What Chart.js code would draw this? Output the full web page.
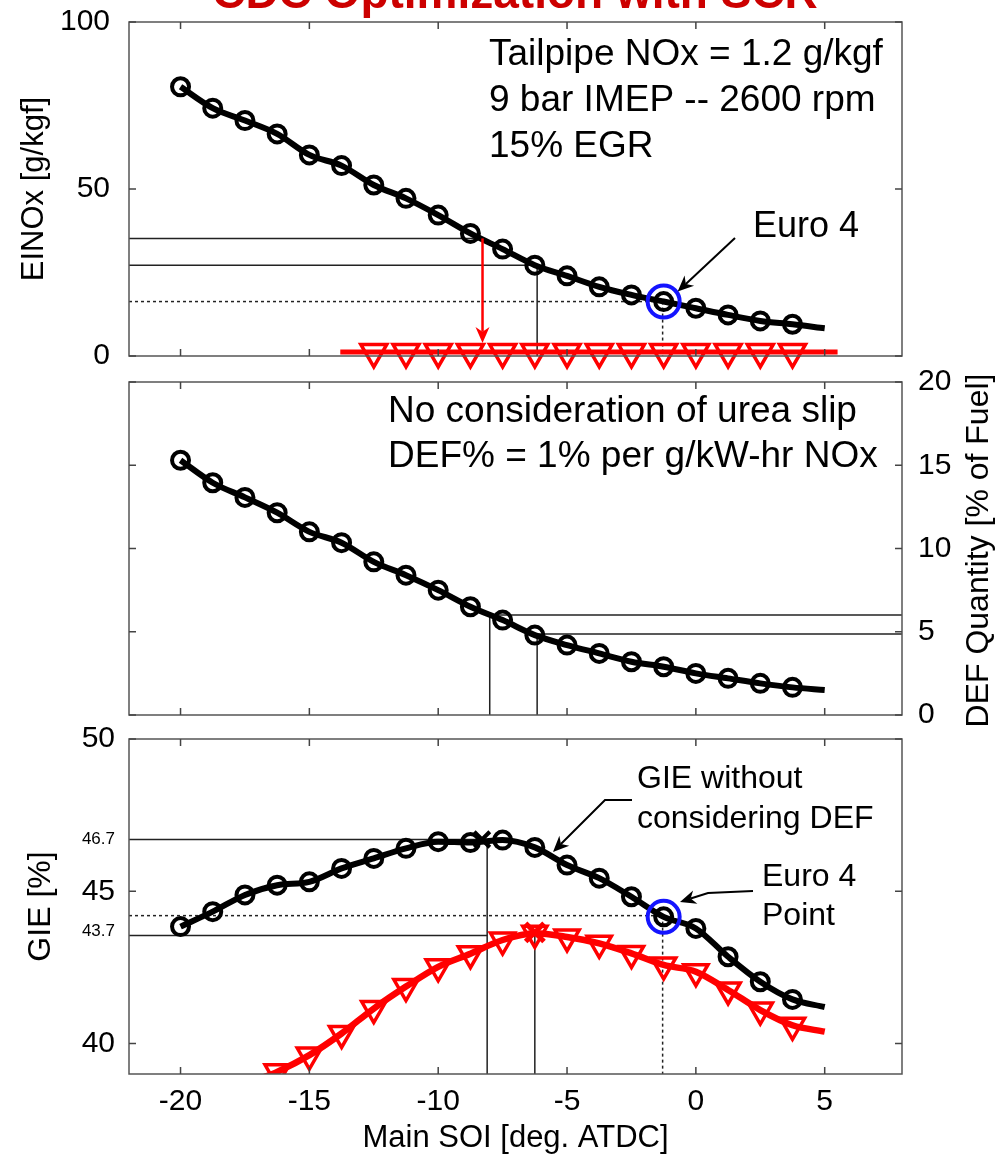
<!DOCTYPE html>
<html><head><meta charset="utf-8">
<script src="https://cdn.jsdelivr.net/npm/chart.js@4.4.1/dist/chart.umd.min.js"></script>
<style>
html,body{margin:0;padding:0;background:#fff;overflow:hidden}
#wrap{position:relative;width:1000px;height:1157px}
canvas{position:absolute;left:0;top:0}
</style></head><body>
<div id="wrap">
<canvas id="c1" width="1000" height="1157" style="width:1000px;height:1157px"></canvas>
<canvas id="c2" width="1000" height="1157" style="width:1000px;height:1157px"></canvas>
<canvas id="c3" width="1000" height="1157" style="width:1000px;height:1157px"></canvas>
</div>
<script>
// ---------- data ----------
const soi = [-20,-18.75,-17.5,-16.25,-15,-13.75,-12.5,-11.25,-10,-8.75,-7.5,-6.25,-5,-3.75,-2.5,-1.25,0,1.25,2.5,3.75];
const einox = [80.6,74.2,70.5,66.5,60.2,57.0,51.2,47.2,42.2,36.7,32.0,27.2,24.0,20.7,18.3,16.3,14.3,12.3,10.5,9.5];
const einoxFitEnd = [5, 8.3];
const tailSoi = [-12.5,-11.25,-10,-8.75,-7.5,-6.25,-5,-3.75,-2.5,-1.25,0,1.25,2.5,3.75];
const tailNox = [1.2,1.2,1.2,1.2,1.2,1.2,1.2,1.2,1.2,1.2,1.2,1.2,1.2,1.2];
const tailLineX = [-13.8, 5.5];
const tailLineY = [1.2, 1.2];
const defQty = [15.3,13.95,13.07,12.15,11.0,10.35,9.2,8.4,7.5,6.5,5.7,4.8,4.2,3.7,3.2,2.9,2.5,2.2,1.9,1.66];
const defFitEnd = [5, 1.5];
const gie = [43.84,44.33,44.88,45.2,45.31,45.75,46.08,46.41,46.63,46.6,46.68,46.44,45.86,45.43,44.82,44.16,43.78,42.85,42.03,41.45];
const gieFitEnd = [5, 41.2];
const gieDefSoi = [-16.25,-15,-13.75,-12.5,-11.25,-10,-8.75,-7.5,-6.25,-5,-3.75,-2.5,-1.25,0,1.25,2.5,3.75];
const gieDef = [39.07,39.62,40.33,41.15,41.87,42.52,42.95,43.4,43.62,43.5,43.29,42.96,42.58,42.36,41.76,41.1,40.6];
const gieDefFitStart = [-16.9, 38.85];
const gieDefFitEnd = [5, 40.39];
const euro4Soi = -1.25;
const euro4Nox = 16.3;
const euro4Gie = 44.16;
const gieMax = [-8.3, 46.7];
const gieDefMax = [-6.25, 43.65];
// reference guide lines [x0,y0,x1,y1,dashed]
const guides1 = [[-22,35.2,-8.28,35.2,0],[-22,27.2,-6.16,27.2,0],[-6.16,27.2,-6.16,0,0],[-22,16.3,-1.29,16.3,1],[-1.29,16.3,-1.29,0,1]];
const redArrow1 = [-8.28, 35.2, 3.9];
const guides2 = [[-8.0,6.0,8,6.0,0],[-8.0,6.0,-8.0,0,0],[-6.16,4.87,8,4.87,0],[-6.16,4.87,-6.16,0,0]];
const guides3 = [[-22,46.7,-8.1,46.7,0],[-8.1,46.7,-8.1,39,0],[-22,43.55,-8.1,43.55,0],[-6.25,43.65,-6.25,39,0],[-22,44.2,-1.29,44.2,1],[-1.29,44.2,-1.29,39,1]];
// ticks
const xTicks = [-20,-15,-10,-5,0,5];
const yTicks1 = [0,50,100];
const yTicks2 = [0,5,10,15,20];
const yTicks3 = [40,43.7,45,46.7,50];
const yMajor3 = [40,45,50];
const yMinor3 = [43.7,46.7];

// ---------- helpers ----------
const FONT = "'Liberation Sans', Arial, Helvetica, sans-serif";
Chart.defaults.font.family = FONT;
Chart.defaults.color = '#000';
const RED = '#ff0000';
const BLUE = '#1414ff';
const pts = (xs, ys) => xs.map((x, i) => ({x, y: ys[i]}));

function curve(xs, ys, extraStart, extraEnd, color, markerStyle, r, bw, lw) {
  const data = [];
  if (extraStart) data.push({x: extraStart[0], y: extraStart[1]});
  const off = data.length;
  data.push(...pts(xs, ys));
  if (extraEnd) data.push({x: extraEnd[0], y: extraEnd[1]});
  return {
    data, showLine: true, borderColor: color, borderWidth: lw,
    cubicInterpolationMode: 'monotone',
    pointStyle: markerStyle, rotation: markerStyle === 'triangle' ? 180 : 0,
    pointRadius: c => (c.dataIndex >= off && c.dataIndex < off + xs.length) ? r : 0,
    pointHoverRadius: 0,
    pointBorderWidth: bw, pointBorderColor: color, pointBackgroundColor: 'rgba(0,0,0,0)',
    order: 1
  };
}
function guideSets(list) {
  return list.map(g => ({
    data: [{x: g[0], y: g[1]}, {x: g[2], y: g[3]}], showLine: true,
    borderColor: '#222', borderWidth: 1.5, borderDash: g[4] ? [3, 3] : [],
    pointRadius: 0, order: 10
  }));
}
function marker(x, y, style, r, bw, color) {
  return {data: [{x, y}], showLine: false, pointStyle: style, pointRadius: r, pointHoverRadius: 0,
    pointBorderWidth: bw, pointBorderColor: color, pointBackgroundColor: 'rgba(0,0,0,0)', order: 0, clip: false};
}
function arrow(ctx, p, color, lw, hl, hw) {
  ctx.save();
  ctx.strokeStyle = color; ctx.fillStyle = color; ctx.lineWidth = lw;
  const n = p.length, [tx, ty] = p[n - 1], [px, py] = p[n - 2];
  const a = Math.atan2(ty - py, tx - px), c = Math.cos(a), s = Math.sin(a);
  ctx.beginPath(); ctx.moveTo(p[0][0], p[0][1]);
  for (let i = 1; i < n - 1; i++) ctx.lineTo(p[i][0], p[i][1]);
  ctx.lineTo(tx - c * hl * 0.7, ty - s * hl * 0.7); ctx.stroke();
  ctx.beginPath(); ctx.moveTo(tx, ty);
  ctx.lineTo(tx - c * hl - s * hw / 2, ty - s * hl + c * hw / 2);
  ctx.lineTo(tx - c * hl * 0.7, ty - s * hl * 0.7);
  ctx.lineTo(tx - c * hl + s * hw / 2, ty - s * hl - c * hw / 2);
  ctx.closePath(); ctx.fill();
  ctx.restore();
}
function text(ctx, str, x, y, size, opts = {}) {
  ctx.save();
  ctx.font = (opts.bold ? 'bold ' : '') + size + 'px ' + FONT;
  ctx.fillStyle = opts.color || '#000';
  ctx.textAlign = opts.align || 'left';
  ctx.textBaseline = 'alphabetic';
  if (opts.rot) { ctx.translate(x, y); ctx.rotate(opts.rot); ctx.fillText(str, 0, 0); }
  else ctx.fillText(str, x, y);
  ctx.restore();
}
const framePlugin = {
  id: 'frame',
  afterDatasetsDraw(chart, args, o) {
    const {ctx, chartArea: {left, right, top, bottom}} = chart;
    const xs = chart.scales.x, ys = chart.scales.y;
    ctx.save();
    ctx.strokeStyle = '#555'; ctx.lineWidth = 1.5;
    ctx.strokeRect(left, top, right - left, bottom - top);
    ctx.strokeStyle = '#444';
    ctx.beginPath();
    xTicks.forEach(v => { const p = xs.getPixelForValue(v);
      ctx.moveTo(p, bottom); ctx.lineTo(p, bottom - 7); ctx.moveTo(p, top); ctx.lineTo(p, top + 7); });
    (o.yMajor || []).forEach(v => { const p = ys.getPixelForValue(v);
      ctx.moveTo(left, p); ctx.lineTo(left + 7, p); ctx.moveTo(right, p); ctx.lineTo(right - 7, p); });
    ctx.stroke();
    ctx.restore();
  }
};
function noPad(s) { s.paddingTop = 0; s.paddingBottom = 0; s.paddingLeft = 0; s.paddingRight = 0; }
function xScale(display) {
  return {
    type: 'linear', min: -22, max: 8, display,
    afterBuildTicks: s => { s.ticks = xTicks.map(v => ({value: v})); },
    afterFit: s => { s.height = display ? 83 : 0; noPad(s); },
    grid: {display: false, drawTicks: false}, border: {display: false},
    ticks: {font: {size: 30}, padding: 10, maxRotation: 0, autoSkip: false},
    title: display ? {display: true, text: 'Main SOI [deg. ATDC]', font: {size: 31}, padding: {top: 0, bottom: 0}} : {display: false}
  };
}
function baseOpts(pad, scales, yMajor) {
  return {
    responsive: false, maintainAspectRatio: false, animation: false,
    layout: {padding: pad, autoPadding: false},
    events: [],
    plugins: {legend: {display: false}, tooltip: {enabled: false}, frame: {yMajor}},
    scales
  };
}

// ---------- panel 1 ----------
new Chart(document.getElementById('c1'), {
  type: 'scatter',
  data: {datasets: [
    marker(euro4Soi, euro4Nox, 'circle', 16, 4, BLUE),
    curve(soi, einox, null, einoxFitEnd, '#000', 'circle', 8.5, 4, 6),
    Object.assign(curve(tailSoi, tailNox, null, null, RED, 'triangle', 15, 3.5, 0), {showLine: false, clip: false, order: 2}),
    {data: pts(tailLineX, tailLineY), showLine: true, borderColor: RED, borderWidth: 5, pointRadius: 0, clip: false, order: 3},
    ...guideSets(guides1)
  ]},
  options: baseOpts({left: 0, top: 22, right: 98, bottom: 801}, {
    x: xScale(false),
    y: {type: 'linear', min: 0, max: 100, position: 'left',
      afterBuildTicks: s => { s.ticks = yTicks1.map(v => ({value: v})); },
      afterFit: s => { s.width = 129; noPad(s); },
      grid: {display: false, drawTicks: false}, border: {display: false},
      ticks: {font: {size: 30}, padding: 19},
      title: {display: true, text: 'EINOx [g/kgf]', font: {size: 31}, padding: {top: 16, bottom: 0}}}
  }, yTicks1),
  plugins: [framePlugin, {
    id: 'ann1',
    afterDraw(chart) {
      const {ctx, scales: {x, y}} = chart;
      text(ctx, 'CDC Optimization with SCR', 515, 8, 46, {bold: true, color: '#cc0000', align: 'center'});
      text(ctx, 'Tailpipe NOx = 1.2 g/kgf', 489, 65, 37);
      text(ctx, '9 bar IMEP -- 2600 rpm', 489, 111, 37);
      text(ctx, '15% EGR', 489, 157, 37);
      text(ctx, 'Euro 4', 753, 237, 36);
      const ex = x.getPixelForValue(euro4Soi), ey = y.getPixelForValue(euro4Nox);
      arrow(ctx, [[735, 238], [ex + 14, ey - 10]], '#000', 2, 16, 14);
      const ax = x.getPixelForValue(redArrow1[0]);
      arrow(ctx, [[ax, y.getPixelForValue(redArrow1[1])], [ax, y.getPixelForValue(redArrow1[2])]], RED, 2.5, 16, 14);
    }
  }]
});

// ---------- panel 2 ----------
new Chart(document.getElementById('c2'), {
  type: 'scatter',
  data: {datasets: [
    curve(soi, defQty, null, defFitEnd, '#000', 'circle', 8.5, 4, 6),
    ...guideSets(guides2)
  ]},
  options: baseOpts({left: 129, top: 382, right: 0, bottom: 442}, {
    x: xScale(false),
    y: {type: 'linear', min: 0, max: 20, position: 'right',
      afterBuildTicks: s => { s.ticks = yTicks2.map(v => ({value: v})); },
      afterFit: s => { s.width = 98; noPad(s); },
      grid: {display: false, drawTicks: false}, border: {display: false},
      ticks: {font: {size: 30}, padding: 16},
      title: {display: false}}
  }, yTicks2),
  plugins: [framePlugin, {
    id: 'ann2',
    afterDraw(chart) {
      const {ctx, chartArea} = chart;
      text(ctx, 'No consideration of urea slip', 388, 422, 37);
      text(ctx, 'DEF% = 1% per g/kW-hr NOx', 388, 467, 37);
      const cy = (chartArea.top + chartArea.bottom) / 2;
      text(ctx, 'DEF Quantity [% of Fuel]', 988, cy + 2, 32, {align: 'center', rot: -Math.PI / 2});
    }
  }]
});

// ---------- panel 3 ----------
new Chart(document.getElementById('c3'), {
  type: 'scatter',
  data: {datasets: [
    marker(euro4Soi, euro4Gie, 'circle', 16, 4, BLUE),
    marker(gieMax[0], gieMax[1], 'crossRot', 11, 4, '#000'),
    marker(gieDefMax[0], gieDefMax[1], 'crossRot', 13, 5, RED),
    curve(soi, gie, null, gieFitEnd, '#000', 'circle', 8.5, 4, 6),
    Object.assign(curve(gieDefSoi, gieDef, gieDefFitStart, gieDefFitEnd, RED, 'triangle', 14, 3.5, 6.5), {order: 2}),
    ...guideSets(guides3)
  ]},
  options: baseOpts({left: 0, top: 739, right: 98, bottom: 0}, {
    x: xScale(true),
    y: {type: 'linear', min: 39, max: 50, position: 'left',
      afterBuildTicks: s => { s.ticks = yTicks3.map(v => ({value: v})); },
      afterFit: s => { s.width = 129; noPad(s); },
      grid: {display: false, drawTicks: false}, border: {display: false},
      ticks: {font: c => (c.tick && yMinor3.includes(c.tick.value)) ? {size: 17} : {size: 30}, padding: 14},
      title: {display: true, text: 'GIE [%]', font: {size: 32}, padding: {top: 22, bottom: 0}}}
  }, yMajor3),
  plugins: [framePlugin, {
    id: 'ann3',
    afterDraw(chart) {
      const {ctx} = chart;
      text(ctx, 'GIE without', 637, 788, 32);
      text(ctx, 'considering DEF', 637, 828, 32);
      arrow(ctx, [[632, 800], [605, 800], [553, 852]], '#000', 2, 16, 14);
      text(ctx, 'Euro 4', 762, 886, 32);
      text(ctx, 'Point', 762, 925, 32);
      arrow(ctx, [[753, 891], [708, 893], [680, 902]], '#000', 2, 16, 14);
    }
  }]
});
</script>
</body></html>
